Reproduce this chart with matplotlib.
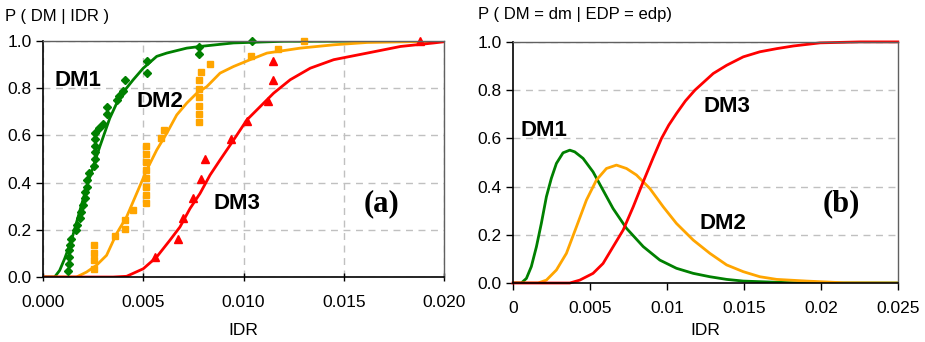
import matplotlib
matplotlib.use("Agg")
import matplotlib.pyplot as plt

plt.rcParams['font.family'] = ['Liberation Sans', 'DejaVu Sans']

GREEN = '#008000'
ORANGE = '#FFA500'
RED = '#FF0000'

# ---- panel (a): observed fractions (markers) and fitted curves ----
dm1_obs_x = [0.00125, 0.00128, 0.0013, 0.0013, 0.00133, 0.00138, 0.00163, 0.0017, 0.00183,
             0.0019, 0.002, 0.0021, 0.0021, 0.0022, 0.0022, 0.0023, 0.00255, 0.0026, 0.0026,
             0.0026, 0.0026, 0.0026, 0.0028, 0.003, 0.0032, 0.0032, 0.0037, 0.0038, 0.004,
             0.0041, 0.00517, 0.00517, 0.0078, 0.0078, 0.0104]
dm1_obs_y = [0.025, 0.057, 0.085, 0.113, 0.135, 0.163, 0.198, 0.22, 0.248, 0.276, 0.305,
             0.333, 0.36, 0.38, 0.41, 0.44, 0.47, 0.50, 0.53, 0.557, 0.584, 0.61, 0.63, 0.65,
             0.69, 0.72, 0.75, 0.765, 0.79, 0.835, 0.864, 0.914, 0.945, 0.973, 1.0]

dm2_obs_x = [0.00255, 0.00255, 0.00255, 0.00255, 0.00358, 0.0041, 0.0041, 0.0045, 0.00513,
             0.00513, 0.00513, 0.00513, 0.00513, 0.00513, 0.00513, 0.00513, 0.0059, 0.00605,
             0.00777, 0.00777, 0.00777, 0.00777, 0.00777, 0.00777, 0.00788, 0.00833, 0.01037,
             0.0117, 0.01303]
dm2_obs_y = [0.035, 0.071, 0.103, 0.137, 0.173, 0.205, 0.24, 0.283, 0.314, 0.348, 0.382,
             0.418, 0.453, 0.486, 0.521, 0.555, 0.59, 0.623, 0.656, 0.69, 0.725, 0.762,
             0.797, 0.833, 0.867, 0.902, 0.935, 0.967, 1.0]

dm3_obs_x = [0.0056, 0.00675, 0.007, 0.0075, 0.0079, 0.0081, 0.0094, 0.01017, 0.01123,
             0.01145, 0.01145, 0.01878]
dm3_obs_y = [0.085, 0.163, 0.248, 0.333, 0.414, 0.499, 0.584, 0.663, 0.748, 0.836, 0.914, 1.0]

dm1_fit_x = [0.0, 0.00058, 0.00083, 0.00108, 0.00142, 0.00175, 0.00208, 0.0025, 0.00283,
             0.00333, 0.00383, 0.0045, 0.005, 0.00567, 0.00617, 0.00717, 0.00783, 0.0095,
             0.012, 0.0202]
dm1_fit_y = [0.0, 0.0, 0.028, 0.078, 0.156, 0.255, 0.354, 0.467, 0.552, 0.673, 0.765, 0.836,
             0.885, 0.935, 0.949, 0.97, 0.977, 0.992, 0.999, 1.0]

dm2_fit_x = [0.0, 0.00167, 0.00217, 0.00267, 0.00317, 0.00367, 0.00417, 0.00467, 0.00517,
             0.00567, 0.00617, 0.00667, 0.00717, 0.00767, 0.00817, 0.00883, 0.0095, 0.01033,
             0.01117, 0.01283, 0.0145, 0.01617, 0.0202]
dm2_fit_y = [0.0, 0.0, 0.021, 0.05, 0.092, 0.184, 0.255, 0.354, 0.453, 0.538, 0.609, 0.687,
             0.737, 0.779, 0.807, 0.864, 0.892, 0.921, 0.949, 0.97, 0.984, 0.994, 1.0]

dm3_fit_x = [0.0, 0.0035, 0.00417, 0.005, 0.00567, 0.00633, 0.00683, 0.00733, 0.00783,
             0.00833, 0.00883, 0.0095, 0.01017, 0.01083, 0.0115, 0.01233, 0.01333, 0.0145,
             0.01617, 0.01783, 0.0195, 0.0202]
dm3_fit_y = [0.0, 0.0, 0.003, 0.035, 0.085, 0.156, 0.212, 0.29, 0.354, 0.432, 0.496, 0.58,
             0.666, 0.722, 0.779, 0.836, 0.885, 0.921, 0.949, 0.977, 0.992, 0.999]

# ---- panel (b): P(DM = dm | EDP = edp) ----
b_dm1_x = [0.0, 0.00054, 0.00087, 0.00119, 0.00152, 0.00184, 0.00217, 0.00249, 0.00282,
           0.00325, 0.00369, 0.00401, 0.00455, 0.0052, 0.00585, 0.0065, 0.00737, 0.00846,
           0.00954, 0.01062, 0.01171, 0.01279, 0.01388, 0.01496, 0.01713, 0.01908, 0.025]
b_dm1_y = [0.0, 0.0, 0.019, 0.068, 0.15, 0.247, 0.358, 0.434, 0.496, 0.54, 0.551, 0.544,
           0.517, 0.461, 0.385, 0.309, 0.227, 0.151, 0.095, 0.061, 0.04, 0.026, 0.015,
           0.008, 0.003, 0.0, 0.0]

b_dm2_x = [0.0, 0.00163, 0.00217, 0.00282, 0.00347, 0.00412, 0.00477, 0.00542, 0.00607,
           0.00672, 0.00737, 0.00802, 0.00889, 0.00976, 0.01062, 0.01171, 0.01279, 0.01388,
           0.01496, 0.01604, 0.01713, 0.01908, 0.02147, 0.025]
b_dm2_y = [0.0, 0.0, 0.012, 0.054, 0.123, 0.233, 0.344, 0.427, 0.475, 0.489, 0.475, 0.448,
           0.392, 0.316, 0.247, 0.178, 0.123, 0.075, 0.047, 0.026, 0.015, 0.008, 0.001, 0.0]

b_dm3_x = [0.0, 0.00369, 0.00434, 0.0052, 0.00585, 0.0065, 0.00716, 0.00781, 0.00846,
           0.00911, 0.00965, 0.01012, 0.01062, 0.0112, 0.01182, 0.01301, 0.01388, 0.01496,
           0.01604, 0.01713, 0.01821, 0.01995, 0.02255, 0.025]
b_dm3_y = [0.0, 0.0, 0.012, 0.04, 0.081, 0.15, 0.22, 0.316, 0.42, 0.52, 0.6, 0.655, 0.703,
           0.755, 0.8, 0.869, 0.903, 0.938, 0.959, 0.972, 0.983, 0.996, 1.0, 1.0]

a_xticks = [0.0, 0.005, 0.010, 0.015, 0.020]
a_xlabels = ['0.000', '0.005', '0.010', '0.015', '0.020']
b_xticks = [0.0, 0.005, 0.01, 0.015, 0.02, 0.025]
b_xlabels = ['0', '0.005', '0.01', '0.015', '0.02', '0.025']
yticks = [0.0, 0.2, 0.4, 0.6, 0.8, 1.0]
ylabels = ['0.0', '0.2', '0.4', '0.6', '0.8', '1.0']

fig = plt.figure(figsize=(9.25, 3.42), dpi=100)
axa = fig.add_axes([0.0465, 0.19, 0.4335, 0.69])
axb = fig.add_axes([0.5546, 0.1725, 0.416, 0.705])


def style(ax, grid_x):
    ax.set_ylim(0, 1.0)
    ax.set_yticks(yticks)
    ax.set_yticklabels(ylabels)
    ax.grid(axis='y', color='#c0c0c0', linestyle=(0, (5, 4)), linewidth=1.0)
    if grid_x:
        ax.grid(axis='x', color='#c0c0c0', linestyle=(0, (5, 4)), linewidth=1.0)
    ax.set_axisbelow(True)
    for s in ('left', 'bottom'):
        ax.spines[s].set_color('black')
        ax.spines[s].set_linewidth(1.2)
    for s in ('top', 'right'):
        ax.spines[s].set_color('#606060')
        ax.spines[s].set_linewidth(1.0)
    ax.tick_params(axis='both', labelsize=12.5, length=5, width=1, colors='black')
    ax.tick_params(axis='y', direction='out', pad=3)


# panel (a)
axa.plot(dm1_fit_x, dm1_fit_y, color=GREEN, lw=2)
axa.plot(dm2_fit_x, dm2_fit_y, color=ORANGE, lw=2)
axa.plot(dm3_fit_x, dm3_fit_y, color=RED, lw=2)
axa.plot(dm1_obs_x, dm1_obs_y, 'D', color=GREEN, ms=4.2, ls='none', clip_on=False)
axa.plot(dm2_obs_x, dm2_obs_y, 's', color=ORANGE, ms=4.5, ls='none', clip_on=False)
axa.plot(dm3_obs_x, dm3_obs_y, '^', color=RED, ms=5.5, ls='none', clip_on=False)
axa.set_xlim(0, 0.020)
axa.set_xticks(a_xticks)
axa.set_xticklabels(a_xlabels)
style(axa, True)
axa.tick_params(axis='x', direction='inout', length=6, pad=10)
axa.set_xlabel('IDR', fontsize=12.5, labelpad=9)
lab = dict(fontsize=16, fontweight='bold', va='center', ha='left')
axa.text(0.00058, 0.833, 'DM1', **lab)
axa.text(0.00467, 0.744, 'DM2', **lab)
axa.text(0.0085, 0.312, 'DM3', **lab)
axa.text(0.0169, 0.312, '(a)', fontsize=22, fontweight='bold', ha='center', va='center',
         family='Liberation Serif')

# panel (b)
axb.plot(b_dm1_x, b_dm1_y, color=GREEN, lw=2)
axb.plot(b_dm2_x, b_dm2_y, color=ORANGE, lw=2)
axb.plot(b_dm3_x, b_dm3_y, color=RED, lw=2, clip_on=False)
axb.set_xlim(0, 0.025)
axb.set_xticks(b_xticks)
axb.set_xticklabels(b_xlabels)
style(axb, False)
axb.tick_params(axis='x', direction='out', length=5, pad=8)
axb.set_xlabel('IDR', fontsize=12.5, labelpad=5)
axb.text(0.0005, 0.634, 'DM1', **lab)
axb.text(0.01236, 0.733, 'DM3', **lab)
axb.text(0.0121, 0.247, 'DM2', **lab)
axb.text(0.0213, 0.327, '(b)', fontsize=22, fontweight='bold', ha='center', va='center',
         family='Liberation Serif')

fig.text(5 / 925, 1 - 16 / 342, 'P ( DM | IDR )', fontsize=12, va='center', ha='left')
fig.text(478 / 925, 1 - 14 / 342, 'P ( DM = dm | EDP = edp)', fontsize=12, va='center', ha='left')

fig.savefig('out.png', dpi=100)
